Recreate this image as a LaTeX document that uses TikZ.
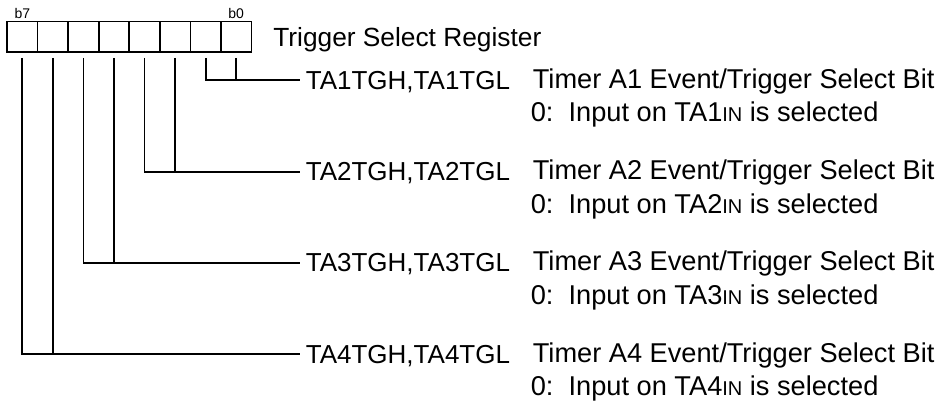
\documentclass[tikz,border=0pt]{standalone}
\usepackage{fontspec}
\setmainfont{Liberation Sans}
% small-capital "IN" used in the input pin names
\newcommand\insub{{\fontsize{20}{21}\selectfont IN}}
\begin{document}
\begin{tikzpicture}[x=1pt,y=-1pt, line width=1.7pt,
  bitbox/.style={draw, minimum width=30.56pt, minimum height=30.5pt, inner sep=0pt, outer sep=0pt},
  bitlbl/.style={font=\fontsize{14}{16}\selectfont, inner sep=0pt, anchor=base},
  field/.style={font=\fontsize{26}{31}\selectfont, anchor=west, inner xsep=5.5pt, inner ysep=0pt,
                text height=18.6pt, text depth=0pt},
  txt/.style={font=\fontsize{26.3}{31}\selectfont, anchor=base west, inner sep=0pt},
  desc/.style={font=\fontsize{27.2}{32}\selectfont, anchor=base west, inner sep=0pt}]
\useasboundingbox (0,0) rectangle (938,403);

% register cells, r0 is the rightmost bit
\foreach \i in {0,...,7}
  \node[bitbox] (r\i) at ({251.5-30.56*(\i+0.5)},36.75) {};
\node[bitlbl] (l7) at ([yshift=2.5pt]r7.north) {b7};
\node[bitlbl] (l0) at ([yshift=2.5pt]r0.north) {b0};
\node[txt] (title) at (272.5,46.7) {Trigger Select Register};

% bit pairs with their field descriptions
\foreach \n/\y/\a/\b in {1/80/0/1, 2/171.7/2/3, 3/262.7/4/5, 4/354/6/7} {
  \node[field] (f\n) at (299.5,\y) {TA\n TGH,TA\n TGL};
  \draw ([yshift=-6pt]r\b.south) |- (f\n.west);
  \draw ([yshift=-6pt]r\a.south) -- (r\a.south |- f\n.west);
  \node[desc] (d\n) at (532,\y+8.3) {Timer A\n\ Event/Trigger Select Bit};
  \node[desc] (s\n) at (530,\y+41.7) {0:\ \ Input on TA\n\insub\ is selected};
}
\end{tikzpicture}
\end{document}
